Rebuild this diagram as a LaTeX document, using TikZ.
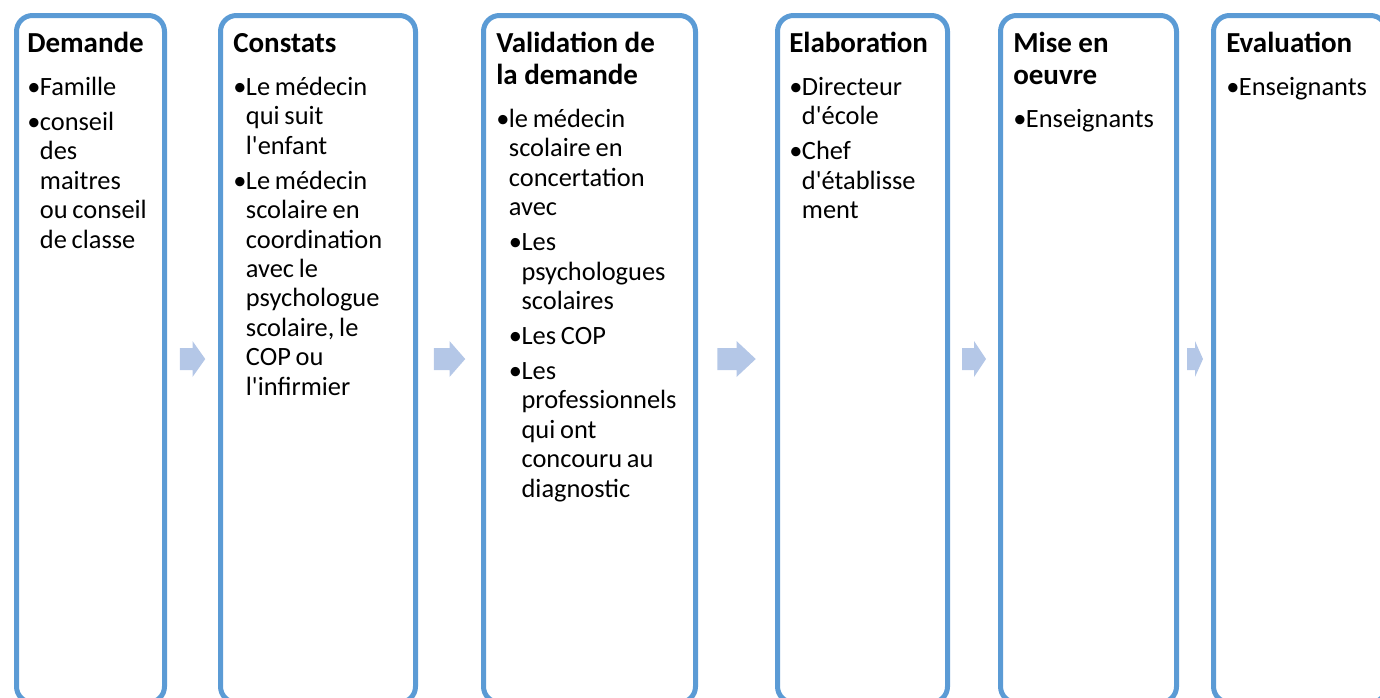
\documentclass[tikz,border=0pt]{standalone}
\usepackage{fontspec}
\newfontfamily\boxfont{Carlito}
\usetikzlibrary{calc}
\definecolor{stageblue}{HTML}{5B9BD5}
\definecolor{flowblue}{HTML}{B4C7E7}

\newcommand{\ttl}[1]{{\spaceskip=0pt\fontsize{21.75}{24}\selectfont\bfseries\rule{0pt}{16pt}#1\par}\vspace{6pt}}
\newcommand{\itm}[1]{\par\hangindent=9.5pt\hangafter=1\noindent\makebox[9.5pt][l]{•}#1\par}
\newcommand{\itmm}[1]{\par\hangindent=19pt\hangafter=1\noindent\hspace*{9.5pt}\makebox[9.5pt][l]{•}#1\par}
\newcommand{\flowarrow}[2]{%
  \fill[flow] let \p1=($(#1.east)!.25!(#2.west)$), \p2=($(#1.east)!.5!(#2.west)$), \p3=($(#1.east)!.75!(#2.west)$) in
    (\x1,\y1+8.25pt) -- (\x2,\y1+8.25pt) -- (\x2,\y1+13.5pt) -- (\x3,\y1) -- (\x2,\y1-13.5pt) -- (\x2,\y1-8.25pt) -- (\x1,\y1-8.25pt) -- cycle;}

\begin{document}
\begin{tikzpicture}[x=0.75pt, y=-0.75pt,
  stage/.style = {draw=stageblue, line width=3.75pt, rounded corners=12pt, anchor=north west, minimum height=515.25pt, inner sep=0pt},
  txt/.style = {anchor=north west, inner sep=0pt, text width=200pt, align=left, font=\boxfont\fontsize{19.8}{22.1}\selectfont, execute at begin node={\parindent=0pt\parskip=4.1pt\spaceskip=0.8\fontdimen2\font\relax}},
  flow/.style = {fill=flowblue}]
\useasboundingbox (0,0) rectangle (1380,697);
\node[stage, minimum width=111pt] (b1) at (14,13) {};
\node[stage, minimum width=146.25pt] (b2) at (218,13) {};
\node[stage, minimum width=159pt] (b3) at (481,13) {};
\node[stage, minimum width=127.5pt] (b4) at (775,13) {};
\node[stage, minimum width=132pt] (b5) at (998,13) {};
\node[stage, minimum width=129.75pt] (b6) at (1211,13) {};
\node[txt] (t1) at ($(b1.north west)+(13,17.67)$) {\ttl{Demande}\itm{Famille}\itm{conseil\newline des\newline maitres\newline ou conseil\newline de classe}};
\node[txt] (t2) at ($(b2.north west)+(15,17.67)$) {\ttl{Constats}\itm{Le médecin\newline qui suit\newline l'enfant}\itm{Le médecin\newline scolaire en\newline coordination\newline avec le\newline psychologue\newline scolaire, le\newline COP ou\newline l'infirmier}};
\node[txt] (t3) at ($(b3.north west)+(15,17.67)$) {\ttl{Validation de\newline la demande}\itm{le médecin\newline scolaire en\newline concertation\newline avec}\itmm{Les\newline psychologues\newline scolaires}\itmm{Les COP}\itmm{Les\newline professionnels\newline qui ont\newline concouru au\newline diagnostic}};
\node[txt] (t4) at ($(b4.north west)+(14,17.67)$) {\ttl{Elaboration}\itm{Directeur\newline d'école}\itm{Chef\newline d'établisse\newline ment}};
\node[txt] (t5) at ($(b5.north west)+(15,17.67)$) {\ttl{Mise en\newline oeuvre}\itm{Enseignants}};
\node[txt] (t6) at ($(b6.north west)+(15,17.67)$) {\ttl{Evaluation}\itm{Enseignants}};
\flowarrow{b1}{b2}
\flowarrow{b2}{b3}
\flowarrow{b3}{b4}
\flowarrow{b4}{b5}
\flowarrow{b5}{b6}
\end{tikzpicture}
\end{document}
